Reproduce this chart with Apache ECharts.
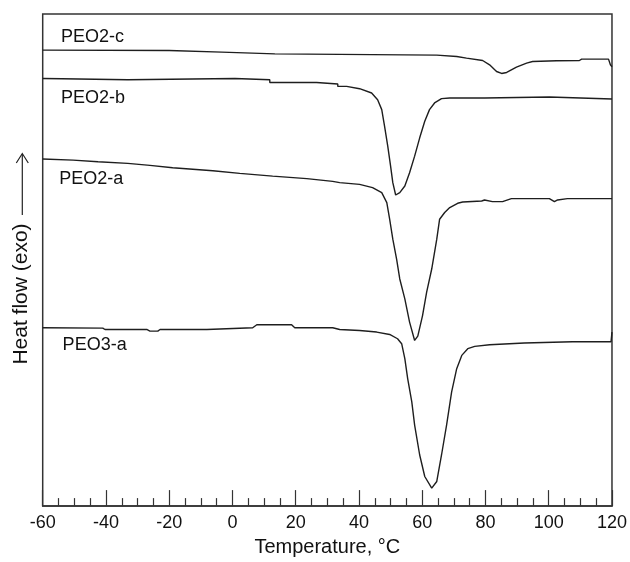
<!DOCTYPE html>
<html>
<head>
<meta charset="utf-8">
<script src="https://cdn.jsdelivr.net/npm/echarts@6/dist/echarts.min.js"></script>
<style>html,body{margin:0;padding:0;background:#fff}#c{width:630px;height:562px}</style>
</head>
<body>
<div id="c"></div>
<script>
// Temperature (°C) vs heat flow (arbitrary units, offset curves)
var xTicks = [-60, -40, -20, 0, 20, 40, 60, 80, 100, 120];
var seriesNames = ['PEO2-c', 'PEO2-b', 'PEO2-a', 'PEO3-a'];
var peo2c = [[-60,457.7],[-20,457.3],[-20,455.7],[-3.4,455.7],[-3.4,454],[13.4,454],[13.4,453],[64.6,452.7],[70.9,451.3],[74,449.7],[79.1,447.3],[81.3,443],[83.5,436.3],[85.1,434.3],[86.7,435.3],[89.8,440.7],[93,444.7],[94.9,446.3],[102.5,447],[109.7,447.3],[110.4,448.7],[118.9,448.7],[119.5,443],[120,441]];
var peo2b = [[-60,429.3],[-53.9,429],[-53.9,428],[-33.1,428],[-33.1,429.3],[0.8,429.3],[0.8,428],[11.8,428],[11.8,425.3],[26.6,425.3],[26.6,423.7],[33.3,423.7],[33.3,421.3],[36.1,421.3],[40.2,419],[44.0,414.7],[45.9,408],[47.2,398],[48.1,381.3],[49.1,361.3],[50.0,341.3],[50.7,324.7],[51.6,312.3],[52.9,314.7],[54.5,321.3],[56.0,334.7],[57.6,351.3],[59.2,369.7],[60.8,386.3],[62.3,398],[63.9,404.7],[66.1,409],[68.7,409.7],[79.7,409.7],[79.7,410.7],[100.2,410.7],[100.2,408.7],[120,408.7]];
var peo2a = [[-60,348.5],[-50.4,347.3],[-42.5,345.7],[-33.1,344],[-26.1,342],[-18.9,339.7],[-6.2,336.7],[2.3,334],[12.7,331.3],[23.5,328.7],[31.7,326],[33.9,324.7],[40.2,323],[44.3,319.7],[47.2,314.7],[48.8,304.7],[49.7,288],[50.7,268],[51.9,248],[52.9,228],[54.5,208],[56.0,184.7],[57.6,166.3],[58.6,170.7],[60.1,191.3],[61.4,214.7],[63.0,238],[64.6,268],[65.5,288],[67.1,294.7],[68.7,299.7],[71.2,304],[72.8,305.3],[78.8,306.3],[79.7,307.3],[82.2,305.7],[85.4,305.7],[88.2,308.7],[100.2,308.7],[101.8,305.7],[102.8,307.3],[105.9,308.7],[120,308.7]];
var peo3a = [[-60,179],[-41.0,178.7],[-40.3,177.3],[-27.1,177.3],[-26.1,175.7],[-23.6,175.7],[-22.9,177.3],[-8.1,177.3],[-7.8,179],[6.4,179],[7.7,182],[18.7,182],[19.7,179],[31.7,179],[33.9,177.3],[40.2,176.3],[45.6,174.7],[49.7,172.3],[52.2,168],[53.5,163],[54.5,148],[55.4,128],[56.7,104.7],[57.6,81.3],[59.2,51.3],[60.8,29.7],[63.0,18],[64.6,24.7],[66.1,51.3],[67.7,81.3],[69.3,114.7],[70.9,138],[72.5,151.3],[74.4,158],[76.6,160.3],[81.3,162],[92.3,163.7],[107.5,165],[119.7,165],[120,174.7]];
var labelAnchors = [[-54.2,470.5],[-54.2,409.5],[-54.8,328.8],[-53.7,161.5]];

var chart = echarts.init(document.getElementById('c'));
var lineColor = '#1e1e1e';
var axisColor = '#333';
var allData = [peo2c, peo2b, peo2a, peo3a];
var series = allData.map(function (d, i) {
  return {
    name: seriesNames[i], type: 'line', data: d, showSymbol: false, symbol: 'none',
    lineStyle: { color: lineColor, width: 1.4 }, animation: false, z: 3
  };
});
chart.setOption({
  animation: false,
  grid: { left: 42.7, right: 18, top: 14, bottom: 54.3, show: true, borderColor: axisColor, borderWidth: 1.5, backgroundColor: 'transparent' },
  xAxis: {
    type: 'value', min: xTicks[0], max: xTicks[xTicks.length - 1], interval: 20,
    name: 'Temperature, °C', nameLocation: 'middle', nameGap: 30,
    nameTextStyle: { fontFamily: 'Liberation Sans, Arial, sans-serif', fontSize: 20, color: '#111' },
    axisLine: { show: true, onZero: false, lineStyle: { color: axisColor, width: 1.5 } },
    axisTick: { show: true, inside: true, length: 16, lineStyle: { color: axisColor, width: 1.2 } },
    minorTick: { show: true, splitNumber: 4, length: 8, lineStyle: { color: axisColor, width: 1.2 } },
    axisLabel: { fontFamily: 'Liberation Sans, Arial, sans-serif', fontSize: 18, color: '#111', margin: 8 },
    splitLine: { show: false }
  },
  yAxis: {
    type: 'value', min: 0, max: 494,
    axisLine: { show: false }, axisTick: { show: false }, axisLabel: { show: false }, splitLine: { show: false }
  },
  series: series
});

var g = [];
labelAnchors.forEach(function (a, i) {
  var p = chart.convertToPixel({ gridIndex: 0 }, a);
  g.push({ type: 'text', x: p[0], y: p[1], z: 10,
    style: { text: seriesNames[i], fontFamily: 'Liberation Sans, Arial, sans-serif', fontSize: 18, fill: '#111', align: 'left', verticalAlign: 'middle' } });
});
g.push({ type: 'text', x: 21, y: 294, rotation: Math.PI / 2, z: 10,
  style: { text: 'Heat flow (exo)', fontFamily: 'Liberation Sans, Arial, sans-serif', fontSize: 21, fill: '#111', align: 'center', verticalAlign: 'middle' } });
g.push({ type: 'line', shape: { x1: 22.3, y1: 215, x2: 22.3, y2: 154 }, style: { stroke: '#222', lineWidth: 1.2 } });
g.push({ type: 'polyline', shape: { points: [[16.3, 163], [22.3, 153.5], [28.3, 163]] }, style: { stroke: '#222', lineWidth: 1.2, fill: null } });
chart.setOption({ graphic: g });
</script>
</body>
</html>
